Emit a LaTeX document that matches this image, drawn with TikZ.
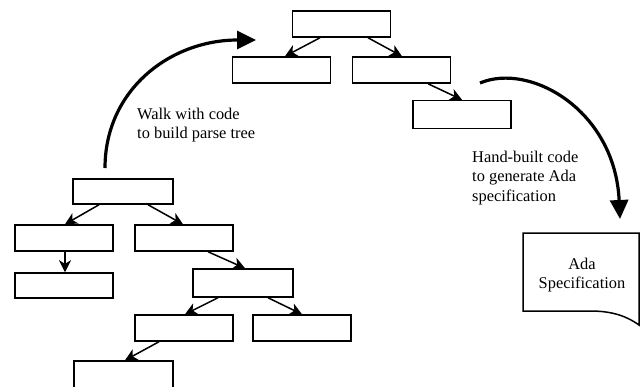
\documentclass[tikz,border=0pt]{standalone}
\usepackage{fontspec}
\setmainfont{Liberation Serif}
\usetikzlibrary{arrows.meta}
\begin{document}
\begin{tikzpicture}[x=1pt,y=-1pt,
  box/.style={draw, line width=1.5pt, inner sep=0pt, minimum width=98pt, minimum height=26pt},
  edge/.style={line width=1.5pt, -{Stealth[length=12pt,width=12pt,inset=3.5pt]}},
  flow/.style={line width=3.2pt, -{Triangle[length=19pt,width=18pt]}},
  lbl/.style={font=\fontsize{16.4}{19.5}\selectfont, inner sep=0pt, align=left, anchor=north west}]
\useasboundingbox (0,0) rectangle (643,386);
\clip (0,0) rectangle (643,386);
% top tree
\node[box] (T0) at (341.5,24) {};
\node[box] (T1) at (281.5,70) {};
\node[box] (T2) at (401.5,70) {};
\node[box, minimum height=28pt] (T3) at (462,114.5) {};
\draw[edge] ([xshift=-21.5pt]T0.south) -- ([xshift=3.5pt]T1.north);
\draw[edge] ([xshift=26.5pt]T0.south) -- ([xshift=0.5pt]T2.north);
\draw[edge] ([xshift=26.5pt]T2.south) -- (T3.north);
% bottom tree
\node[box, minimum width=100pt, minimum height=25pt] (B0) at (123,191.5) {};
\node[box] (B1) at (64,238) {};
\node[box] (B2) at (184,238) {};
\node[box, minimum height=25pt] (B3) at (64,285.5) {};
\node[box, minimum width=100pt, minimum height=28pt] (B4) at (243,283) {};
\node[box] (B5) at (184,328) {};
\node[box] (B6) at (302,328) {};
\node[box, minimum width=99pt, minimum height=28pt] (B7) at (123.5,375) {};
\draw[edge] ([xshift=-24pt]B0.south) -- ([xshift=1pt]B1.north);
\draw[edge] ([xshift=25pt]B0.south) -- ([xshift=-1pt]B2.north);
\draw[edge] ([xshift=1pt]B1.south) -- ([xshift=1pt]B3.north);
\draw[edge] ([xshift=24pt]B2.south) -- ([xshift=2pt]B4.north);
\draw[edge] ([xshift=-25pt]B4.south) -- ([xshift=1pt]B5.north);
\draw[edge] ([xshift=25pt]B4.south) -- (B6.north);
\draw[edge] ([xshift=-25pt]B5.south) -- ([xshift=1.5pt]B7.north);
% big flow arrows
\coordinate (ls) at (105,168);
\coordinate (le) at (256,40);
\draw[flow] (ls) .. controls (105,90) and (170,40) .. (le);
\coordinate (rs) at (480,83);
\coordinate (re) at (620,219);
\draw[flow] (rs) .. controls (530,62) and (615,110) .. (re);
\node[lbl] (walk) at (137,107.8) {Walk with code\\to build parse tree};
\node[lbl] (hand) at (472,150.8) {Hand-built code\\to generate Ada\\specification};
% document shape
\draw[line width=1.5pt] (523,233) -- (639,233) -- (639,325) .. controls (625,315) and (610,311) .. (590,311) -- (523,311) -- cycle;
\node[lbl, align=center, anchor=north] (doc) at (582,257.8) {Ada\\Specification};
\end{tikzpicture}
\end{document}
